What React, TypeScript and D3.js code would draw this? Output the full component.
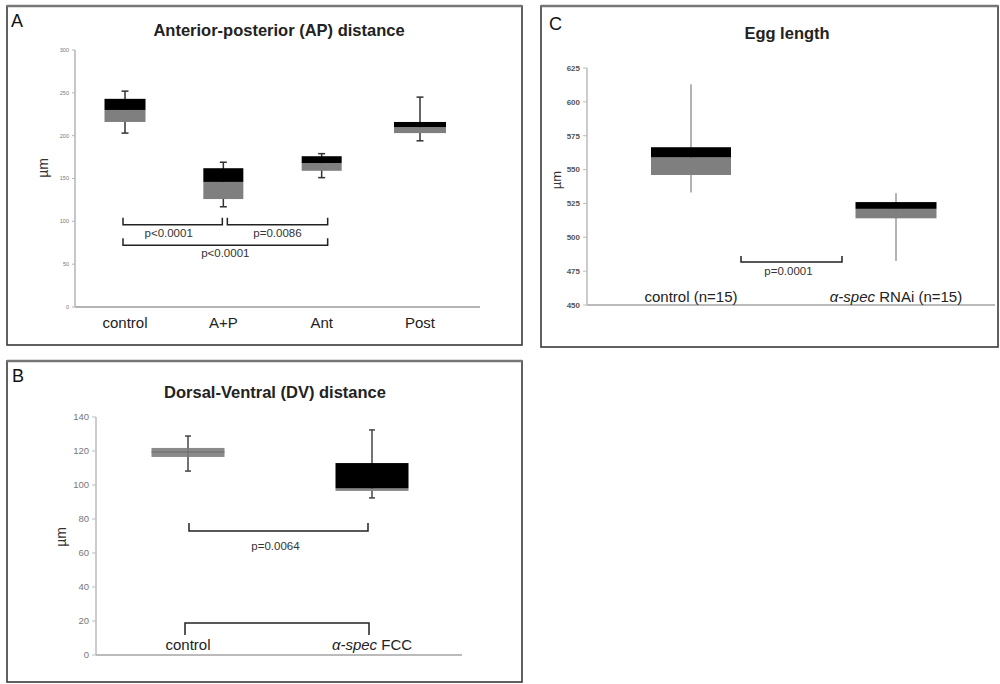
import React from "react";
import * as d3 from "d3";

// ---------- Panel A: Anterior-posterior (AP) distance ----------
const apCategories = ["control", "A+P", "Ant", "Post"];
const apWhiskerLow = [203, 117, 151, 194];
const apQ1 = [216, 126, 159, 203];
const apMedian = [230, 146, 168, 210];
const apQ3 = [243, 162, 176, 216];
const apWhiskerHigh = [252, 169, 179, 245];
const apTicks = [0, 50, 100, 150, 200, 250, 300];
const apBrackets = [
  { from: "control", to: "A+P", level: 96, label: "p<0.0001" },
  { from: "A+P", to: "Ant", level: 96, label: "p=0.0086" },
  { from: "control", to: "Ant", level: 72, label: "p<0.0001" },
];

// ---------- Panel B: Dorsal-Ventral (DV) distance ----------
const dvCategories = ["control", "α-spec FCC"];
const dvWhiskerLow = [108.2, 92.4];
const dvQ1 = [116.5, 96.5];
const dvMedian = [119.4, 98];
const dvQ3 = [121.8, 112.9];
const dvWhiskerHigh = [128.8, 132.4];
const dvTicks = [0, 20, 40, 60, 80, 100, 120, 140];
const dvBrackets = [
  { from: "control", to: "α-spec FCC", level: 73, label: "p=0.0064" },
  { from: "control", to: "α-spec FCC", level: 18.8, label: "" },
];

// ---------- Panel C: Egg length ----------
const eggCategories = ["control (n=15)", "α-spec RNAi (n=15)"];
const eggWhiskerLow = [533, 482.5];
const eggQ1 = [546, 514];
const eggMedian = [559, 521];
const eggQ3 = [566.5, 526];
const eggWhiskerHigh = [613, 532.6];
const eggTicks = [450, 475, 500, 525, 550, 575, 600, 625];
const eggBrackets = [
  { from: "control (n=15)", to: "α-spec RNAi (n=15)", level: 481.7, label: "p=0.0001" },
];

const FONT = "'Liberation Sans', Arial, Helvetica, sans-serif";

function renderLabel(label: string) {
  if (label.startsWith("α-spec")) {
    return (
      <>
        <tspan fontStyle="italic">α-spec</tspan>
        {label.slice("α-spec".length)}
      </>
    );
  }
  return label;
}

type BracketStyle = { dx1: number; dx2: number; dir: number; tick: number; textDx: number };

type PanelProps = {
  frame: { x: number; y: number; w: number; h: number };
  letter: { text: string; x: number; y: number };
  title: { text: string; x: number; y: number };
  categories: string[];
  lo: number[];
  q1: number[];
  med: number[];
  q3: number[];
  hi: number[];
  ticks: number[];
  brackets: { from: string; to: string; level: number; label: string }[];
  bracketStyles: BracketStyle[];
  yDomain: [number, number];
  yRange: [number, number];
  axisX: number;
  axisEnd: number;
  xRange: [number, number];
  boxWidths: number[];
  upperFill: string[];
  lowerFill: string;
  medianLine?: (string | null)[];
  tickFont: number;
  tickFill: string;
  tickWeight?: number;
  tickLen: number;
  axisColor: string;
  catFont: number;
  catY: number;
  unit: { x: number; y: number; size: number };
  whiskerColor: string;
  whiskerWidth: number;
  capWidth: number;
  textOffset: number;
  pFont: number;
};

function BoxPanel(p: PanelProps) {
  const y = d3.scaleLinear().domain(p.yDomain).range(p.yRange);
  const x = d3.scalePoint<string>().domain(p.categories).range(p.xRange);
  return (
    <g fontFamily={FONT}>
      <rect x={p.frame.x} y={p.frame.y} width={p.frame.w} height={p.frame.h} fill="#fff" stroke="#3a3a3a" strokeWidth={1.6} />
      <line x1={p.frame.x} x2={p.frame.x + p.frame.w} y1={p.frame.y} y2={p.frame.y} stroke="#777" strokeWidth={2.5} />
      <text x={p.letter.x} y={p.letter.y} fontSize={18} fill="#111">{p.letter.text}</text>
      <text x={p.title.x} y={p.title.y} fontSize={16.5} fontWeight="bold" textAnchor="middle" fill="#222">{p.title.text}</text>

      {/* y axis */}
      <line x1={p.axisX} x2={p.axisX} y1={y(p.yDomain[0])} y2={y(p.yDomain[1])} stroke={p.axisColor} strokeWidth={1.5} />
      {p.ticks.map((t) => (
        <g key={t}>
          <line x1={p.axisX - p.tickLen} x2={p.axisX} y1={y(t)} y2={y(t)} stroke={p.axisColor} strokeWidth={1} />
          <text x={p.axisX - p.tickLen - 3} y={y(t)} dy="0.35em" textAnchor="end" fontSize={p.tickFont} fill={p.tickFill} fontWeight={p.tickWeight ?? 400}>{t}</text>
        </g>
      ))}
      {/* x axis */}
      <line x1={p.axisX} x2={p.axisEnd} y1={y(p.yDomain[0])} y2={y(p.yDomain[0])} stroke={p.axisColor} strokeWidth={1.8} />

      <text transform={`translate(${p.unit.x},${p.unit.y}) rotate(-90)`} textAnchor="middle" dy="0.35em" fontSize={p.unit.size} fill="#333">µm</text>

      {/* boxes */}
      {p.categories.map((c, i) => {
        const cx = x(c)!;
        const w = p.boxWidths[i];
        return (
          <g key={c}>
            <line x1={cx} x2={cx} y1={y(p.hi[i])} y2={y(p.lo[i])} stroke={p.whiskerColor} strokeWidth={p.whiskerWidth} />
            {p.capWidth > 0 && (
              <>
                <line x1={cx - p.capWidth / 2} x2={cx + p.capWidth / 2} y1={y(p.hi[i])} y2={y(p.hi[i])} stroke={p.whiskerColor} strokeWidth={1.5} />
                <line x1={cx - p.capWidth / 2} x2={cx + p.capWidth / 2} y1={y(p.lo[i])} y2={y(p.lo[i])} stroke={p.whiskerColor} strokeWidth={1.5} />
              </>
            )}
            <rect x={cx - w / 2} y={y(p.med[i])} width={w} height={y(p.q1[i]) - y(p.med[i])} fill={p.lowerFill} />
            <rect x={cx - w / 2} y={y(p.q3[i])} width={w} height={y(p.med[i]) - y(p.q3[i])} fill={p.upperFill[i]} />
            {p.medianLine && p.medianLine[i] && (
              <>
                <line x1={cx - w / 2} x2={cx + w / 2} y1={y(p.med[i])} y2={y(p.med[i])} stroke={p.medianLine[i]!} strokeWidth={1.2} />
                <line x1={cx} x2={cx} y1={y(p.q3[i])} y2={y(p.q1[i])} stroke={p.medianLine[i]!} strokeWidth={1} />
              </>
            )}
            <text x={cx} y={p.catY} textAnchor="middle" fontSize={p.catFont} fill="#222">{renderLabel(c)}</text>
          </g>
        );
      })}

      {/* significance brackets */}
      {p.brackets.map((b, i) => {
        const s = p.bracketStyles[i];
        const x1 = x(b.from)! + s.dx1;
        const x2 = x(b.to)! + s.dx2;
        const by = y(b.level);
        const ty = by - s.dir * s.tick;
        return (
          <g key={i}>
            <path d={`M${x1},${ty}L${x1},${by}L${x2},${by}L${x2},${ty}`} fill="none" stroke="#222" strokeWidth={1.5} />
            {b.label && (
              <text x={(x1 + x2) / 2 + s.textDx} y={by + p.textOffset} textAnchor="middle" fontSize={p.pFont} fill="#333">{b.label}</text>
            )}
          </g>
        );
      })}
    </g>
  );
}

export default function App() {
  return (
    <svg width={1000} height={684} style={{ position: "absolute", left: 0, top: 0, background: "#fff" }}>
      <rect x={0} y={0} width={1000} height={684} fill="#fff" />
      <BoxPanel
        frame={{ x: 7, y: 6, w: 515, h: 339 }}
        letter={{ text: "A", x: 11, y: 27 }}
        title={{ text: "Anterior-posterior (AP) distance", x: 279, y: 36 }}
        categories={apCategories}
        lo={apWhiskerLow}
        q1={apQ1}
        med={apMedian}
        q3={apQ3}
        hi={apWhiskerHigh}
        ticks={apTicks}
        brackets={apBrackets}
        bracketStyles={[
          { dx1: -2, dx2: -1, dir: 1, tick: 7, textDx: -4 },
          { dx1: 4, dx2: 6, dir: 1, tick: 7, textDx: 0 },
          { dx1: -2, dx2: 6, dir: 1, tick: 7, textDx: 0 },
        ]}
        yDomain={[0, 300]}
        yRange={[307, 50]}
        axisX={75}
        axisEnd={480}
        xRange={[125, 420]}
        boxWidths={[41, 40, 40, 52]}
        upperFill={["#000", "#000", "#000", "#000"]}
        lowerFill="#7f7f7f"
        tickFont={5.5}
        tickFill="#777"
        tickLen={3}
        axisColor="#b5b5b5"
        catFont={15}
        catY={328}
        unit={{ x: 43, y: 168, size: 14 }}
        whiskerColor="#333"
        whiskerWidth={1.5}
        capWidth={7}
        textOffset={12}
        pFont={11.5}
      />
      <BoxPanel
        frame={{ x: 541, y: 6, w: 457, h: 341 }}
        letter={{ text: "C", x: 549, y: 30 }}
        title={{ text: "Egg length", x: 787, y: 39 }}
        categories={eggCategories}
        lo={eggWhiskerLow}
        q1={eggQ1}
        med={eggMedian}
        q3={eggQ3}
        hi={eggWhiskerHigh}
        ticks={eggTicks}
        brackets={eggBrackets}
        bracketStyles={[{ dx1: 50, dx2: -54, dir: 1, tick: 6, textDx: -3 }]}
        yDomain={[450, 625]}
        yRange={[305, 68]}
        axisX={587}
        axisEnd={995}
        xRange={[691, 896]}
        boxWidths={[80, 81]}
        upperFill={["#000", "#000"]}
        lowerFill="#7f7f7f"
        tickFont={8}
        tickFill="#555"
        tickWeight={700}
        tickLen={4}
        axisColor="#bbb"
        catFont={15}
        catY={302}
        unit={{ x: 556, y: 180, size: 13 }}
        whiskerColor="#9a9a9a"
        whiskerWidth={1.5}
        capWidth={0}
        textOffset={13}
        pFont={11.5}
      />
      <BoxPanel
        frame={{ x: 7, y: 361, w: 515, h: 321 }}
        letter={{ text: "B", x: 12, y: 382 }}
        title={{ text: "Dorsal-Ventral (DV) distance", x: 275, y: 398 }}
        categories={dvCategories}
        lo={dvWhiskerLow}
        q1={dvQ1}
        med={dvMedian}
        q3={dvQ3}
        hi={dvWhiskerHigh}
        ticks={dvTicks}
        brackets={dvBrackets}
        bracketStyles={[
          { dx1: 1, dx2: -4, dir: 1, tick: 8, textDx: -3 },
          { dx1: -3, dx2: -3, dir: -1, tick: 12, textDx: 0 },
        ]}
        yDomain={[0, 140]}
        yRange={[655, 417]}
        axisX={96}
        axisEnd={462}
        xRange={[188, 372]}
        boxWidths={[73, 73]}
        upperFill={["#8a8a8a", "#000"]}
        lowerFill="#8a8a8a"
        medianLine={["#6a6a6a", null]}
        tickFont={9.5}
        tickFill="#777"
        tickLen={4}
        axisColor="#bbb"
        catFont={15}
        catY={650}
        unit={{ x: 61, y: 537, size: 14 }}
        whiskerColor="#444"
        whiskerWidth={1.5}
        capWidth={6}
        textOffset={19}
        pFont={11.5}
      />
    </svg>
  );
}
